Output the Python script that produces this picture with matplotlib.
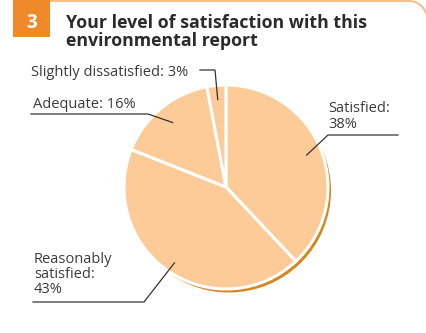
import numpy as np
import matplotlib
matplotlib.use("Agg")
import matplotlib.pyplot as plt
from matplotlib.patches import Circle, Rectangle, Arc

# Survey results: satisfaction with the environmental report
categories = ["Satisfied", "Reasonably satisfied", "Adequate", "Slightly dissatisfied"]
shares = [38, 43, 16, 3]
label_lines = [["Satisfied:", "38%"],
               ["Reasonably", "satisfied:", "43%"],
               ["Adequate: 16%"],
               ["Slightly dissatisfied: 3%"]]
title_lines = ["Your level of satisfaction with this", "environmental report"]
panel_number = "3"

W, H = 427, 333
FILL = "#FCCB98"
SHADOW = "#D4871C"
ACCENT = "#F0892A"
BORDER = "#F8B97A"
TEXT = "#3b3b3b"
LINE = "#333333"
FONT = "Open Sans"
LABEL_SIZE = 10.5

fig = plt.figure(figsize=(W / 100, H / 100), dpi=100)

# Overlay axes in pixel units for header decorations
deco = fig.add_axes([0, 0, 1, 1])
deco.set_xlim(0, W)
deco.set_ylim(H, 0)
deco.axis("off")
deco.add_patch(Rectangle((13, 0), 37, 37, color=ACCENT, lw=0))
deco.text(31.5, 28, panel_number, color="white", fontsize=13.5, fontweight="bold",
          family=FONT, ha="center", va="baseline")
deco.plot([50, 409], [1.2, 1.2], color=BORDER, lw=1.3, solid_capstyle="butt")
deco.add_patch(Arc((409, 19), 36, 36, theta1=270, theta2=360, color=BORDER, lw=1.3))
for line, base in zip(title_lines, [28, 45.5]):
    deco.text(66, base, line, color="#2b2b2b", fontsize=12.8, fontweight="bold",
              family=FONT, ha="left", va="baseline")

# Pie axes: data units are pixels, centred on the pie
cx, cy, R = 226, 187, 102
pad = 110
ax = fig.add_axes([(cx - pad) / W, (H - cy - pad) / H, 2 * pad / W, 2 * pad / H])

ax.add_patch(Circle((3, -3.5), R, color=SHADOW, lw=0, zorder=0))
wedges, _ = ax.pie(shares, radius=R, startangle=90, counterclock=False,
                   colors=[FILL] * len(shares),
                   wedgeprops=dict(edgecolor="white", linewidth=2.2))
for w in wedges:
    w.set_zorder(1)
ax.set_xlim(-pad, pad)
ax.set_ylim(-pad, pad)
ax.set_aspect("equal")
ax.axis("off")

# Leader-line anchors inside each wedge
total = sum(shares)
angles = []
start = 90.0
for s in shares:
    span = 360.0 * s / total
    angles.append(start - span / 2)
    start -= span
anchor_r = [0.85, 0.9, 0.82, 0.86]
anchors = [(R * f * np.cos(np.radians(a)), R * f * np.sin(np.radians(a)))
           for a, f in zip(angles, anchor_r)]


def px(x, y):
    """Pixel position in the figure -> pie data coordinates."""
    return x - cx, cy - y


def leader(anchor, elbow, end):
    e1, e2 = px(*elbow), px(*end)
    ax.plot([anchor[0], e1[0], e2[0]], [anchor[1], e1[1], e2[1]],
            color=LINE, lw=0.9, clip_on=False, zorder=3)


def label(lines, x, baselines):
    for text, b in zip(lines, baselines):
        p = px(x, b)
        ax.text(p[0], p[1], text, color=TEXT, fontsize=LABEL_SIZE, family=FONT,
                ha="left", va="baseline", clip_on=False)


# Satisfied
leader(anchors[0], (328, 135), (398, 135))
label(label_lines[0], 328, [112, 128])

# Reasonably satisfied
leader(anchors[1], (144, 302), (33, 302))
label(label_lines[1], 34, [263, 278, 293])

# Adequate
leader(anchors[2], (148, 114), (31, 114))
label(label_lines[2], 33, [108])

# Slightly dissatisfied
leader(anchors[3], (215, 70), (200, 70))
label(label_lines[3], 31, [76])

fig.savefig("out.png", dpi=100)
